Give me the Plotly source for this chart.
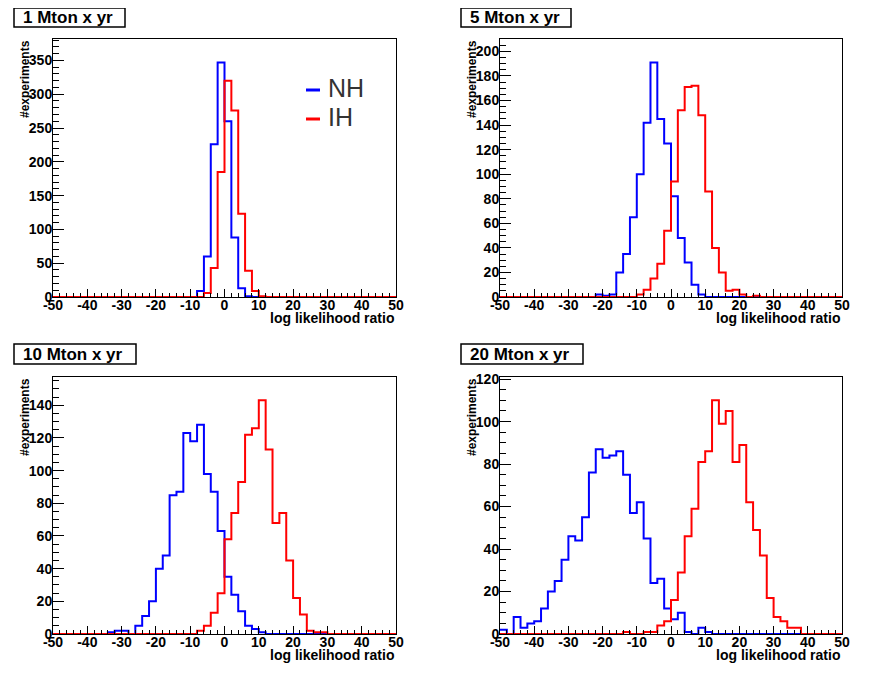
import plotly.graph_objs as go

# bin edges of the log likelihood ratio histograms (50 bins, width 2)
BIN_EDGES = list(range(-50, 52, 2))

PANEL_TITLES = ['1 Mton x yr', '5 Mton x yr', '10 Mton x yr', '20 Mton x yr']

# x tick labels as ROOT prints them (plain hyphen)
X_TICKS = [-50, -40, -30, -20, -10, 0, 10, 20, 30, 40, 50]
X_TICK_TEXT = ['-50', '-40', '-30', '-20', '-10', '0', '10', '20', '30', '40', '50']

# counts per bin
NH_1 = [0, 0, 0, 0, 0, 0, 0, 0, 0, 0,
        0, 0, 0, 0, 0, 0, 0, 0, 0, 0,
        0, 9, 60, 226, 347, 260, 88, 13, 1, 0,
        0, 0, 0, 0, 0, 0, 0, 0, 0, 0,
        0, 0, 0, 0, 0, 0, 0, 0, 0, 0]
IH_1 = [0, 0, 0, 0, 0, 0, 0, 0, 0, 0,
        0, 0, 0, 0, 0, 0, 0, 0, 0, 0,
        0, 0, 6, 43, 185, 320, 276, 123, 39, 9,
        1, 0, 0, 0, 0, 0, 0, 0, 0, 0,
        0, 0, 0, 0, 0, 0, 0, 0, 0, 0]

NH_5 = [0, 0, 0, 0, 0, 0, 0, 0, 0, 0,
        0, 0, 0, 0, 2, 1, 2, 20, 35, 65,
        100, 142, 191, 145, 125, 82, 48, 28, 10, 2,
        0, 0, 0, 0, 0, 0, 0, 0, 0, 0,
        0, 0, 0, 0, 0, 0, 0, 0, 0, 0]
IH_5 = [0, 0, 0, 0, 0, 0, 0, 0, 0, 0,
        0, 0, 0, 0, 0, 0, 0, 0, 0, 0,
        2, 6, 15, 27, 54, 94, 152, 171, 172, 148,
        86, 40, 20, 5, 6, 2, 0, 1, 0, 0,
        0, 0, 0, 0, 0, 0, 0, 0, 0, 0]

NH_10 = [0, 0, 0, 0, 0, 0, 0, 0, 1, 2,
         2, 0, 5, 11, 20, 40, 48, 85, 87, 123,
         118, 128, 98, 87, 63, 35, 24, 14, 5, 3,
         1, 0, 0, 0, 0, 0, 0, 0, 0, 0,
         0, 0, 0, 0, 0, 0, 0, 0, 0, 0]
IH_10 = [0, 0, 0, 0, 0, 0, 0, 0, 0, 0,
         0, 0, 0, 0, 0, 0, 0, 0, 0, 0,
         0, 2, 5, 13, 25, 58, 74, 93, 122, 126,
         143, 113, 68, 74, 45, 22, 12, 2, 1, 1,
         0, 0, 0, 0, 0, 0, 0, 0, 0, 0]

NH_20 = [2, 0, 8, 3, 5, 6, 12, 20, 25, 35,
         46, 44, 55, 76, 87, 83, 84, 86, 75, 57,
         62, 45, 24, 26, 12, 7, 10, 1, 0, 3,
         1, 0, 0, 0, 0, 0, 0, 0, 0, 0,
         0, 0, 0, 0, 0, 0, 0, 0, 0, 0]
IH_20 = [0, 0, 0, 0, 0, 0, 0, 0, 0, 0,
         0, 0, 0, 0, 0, 0, 0, 0, 1, 0,
         0, 1, 1, 4, 6, 16, 29, 46, 59, 81,
         86, 110, 99, 105, 81, 89, 62, 49, 37, 17,
         8, 6, 3, 3, 0, 0, 0, 0, 0, 0]

NH_SETS = [NH_1, NH_5, NH_10, NH_20]
IH_SETS = [IH_1, IH_5, IH_10, IH_20]

# the page body keeps its 8px margin, so the figure sits at (8, 8)
OFF = 8
W, H = 877 - 2 * OFF, 678 - 2 * OFF
FONT = 'Liberation Sans'

# pad frames in window pixels: left, right, top, bottom
FRAMES = [(53, 396, 39, 297), (500, 842, 39, 297),
          (53, 396, 377, 634), (500, 842, 377, 634)]
TITLE_BOXES = [(14, 125, 8, 27), (461, 571, 8, 27),
               (14, 136, 344, 364), (461, 583, 344, 364)]
Y_MAJOR = [50, 20, 20, 20]
Y_MINOR = [10, 5, 5, 5]


def px(x):
    return (x - OFF) / W


def py(y):
    return 1 - (y - OFF) / H


def step_trace(counts, color, idx):
    # ROOT style histogram outline
    sfx = '' if idx == 0 else str(idx + 1)
    return go.Scatter(x=BIN_EDGES, y=counts + [counts[-1]], mode='lines',
                      line=dict(color=color, width=2, shape='hv'),
                      xaxis='x' + sfx, yaxis='y' + sfx, showlegend=False,
                      hoverinfo='skip')


traces = []
layout = dict(width=W, height=H, margin=dict(l=0, r=0, t=0, b=0, autoexpand=False),
              template='none', paper_bgcolor='white', plot_bgcolor='white',
              font=dict(family=FONT, color='black'),
              annotations=[], shapes=[])

tickfont = dict(family=FONT, size=14, weight='bold', color='black')

for i in range(4):
    sfx = '' if i == 0 else str(i + 1)
    l, r, t, b = FRAMES[i]
    traces.append(step_trace(NH_SETS[i], '#0000ff', i))
    traces.append(step_trace(IH_SETS[i], '#ff0000', i))

    ymax = 1.1 * max(max(NH_SETS[i]), max(IH_SETS[i]))
    layout['xaxis' + sfx] = dict(
        domain=[px(l), px(r)], anchor='y' + sfx, range=[-50, 50],
        tickmode='array', tickvals=X_TICKS, ticktext=X_TICK_TEXT,
        ticks='inside', ticklen=8, tickcolor='black',
        minor=dict(dtick=2, tick0=0, ticks='inside', ticklen=4, tickcolor='black'),
        showgrid=False, zeroline=False, showline=True, linecolor='black',
        linewidth=1, mirror=True, tickfont=tickfont, ticklabelstandoff=-5,
        automargin=False)
    layout['yaxis' + sfx] = dict(
        domain=[py(b), py(t)], anchor='x' + sfx, range=[0, ymax],
        dtick=Y_MAJOR[i], tick0=0, ticks='inside', ticklen=11, tickcolor='black',
        minor=dict(dtick=Y_MINOR[i], ticks='inside', ticklen=6, tickcolor='black'),
        showgrid=False, zeroline=False, showline=True, linecolor='black',
        linewidth=1, mirror=True, tickfont=tickfont, ticklabelstandoff=-3,
        automargin=False)

    # axis titles
    layout['annotations'].append(dict(
        text='log likelihood ratio', xref='paper', yref='paper',
        x=px(r), y=py(b + 21), xanchor='right', yanchor='middle',
        showarrow=False, font=dict(family=FONT, size=14, weight='bold')))
    layout['annotations'].append(dict(
        text='#experiments', xref='paper', yref='paper', textangle=-90,
        x=px(l - 28), y=py(t - 1), xanchor='center', yanchor='top',
        showarrow=False, font=dict(family=FONT, size=12, weight='bold')))

    # pad title box
    bl, br, bt, bb = TITLE_BOXES[i]
    layout['shapes'].append(dict(
        type='rect', xref='paper', yref='paper', x0=px(bl), x1=px(br),
        y0=py(bb), y1=py(bt), line=dict(color='black', width=1.5),
        fillcolor='white'))
    layout['annotations'].append(dict(
        text=PANEL_TITLES[i], xref='paper', yref='paper',
        x=px(bl + 7), y=py((bt + bb) / 2), xanchor='left', yanchor='middle',
        showarrow=False, font=dict(family=FONT, size=17, weight='bold')))

# legend in the first pad
for label, color, ypos in [('NH', '#0000ff', 88), ('IH', '#ff0000', 117)]:
    layout['shapes'].append(dict(
        type='line', xref='paper', yref='paper', x0=px(306), x1=px(320),
        y0=py(ypos + 2), y1=py(ypos + 2), line=dict(color=color, width=3)))
    layout['annotations'].append(dict(
        text=label, xref='paper', yref='paper', x=px(326), y=py(ypos),
        xanchor='left', yanchor='middle', showarrow=False,
        font=dict(family=FONT, size=25, color='#333333')))

fig = go.Figure(data=traces, layout=go.Layout(layout))
fig.write_html('out.html')
